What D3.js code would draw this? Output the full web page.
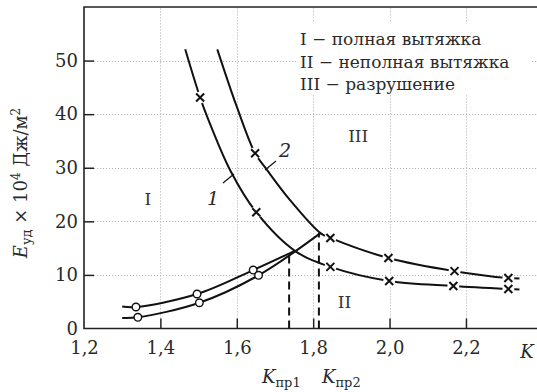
<!DOCTYPE html>
<html><head><meta charset="utf-8">
<script src="https://cdn.jsdelivr.net/npm/d3@7"></script>
<style>body{margin:0;background:#fff}svg{display:block}</style>
</head><body><svg id="c" width="537" height="392"></svg>
<script>
// ---- data ----
const xTicks = [1.2, 1.4, 1.6, 1.8, 2.0, 2.2];
const yTicks = [0, 10, 20, 30, 40, 50];
// descending curves (line vertices)
const curve1 = [[1.465,52.1],[1.504,43.1],[1.526,38.9],[1.583,29.5],[1.651,21.7],[1.752,14.5],[1.845,11.5],[1.999,8.86],[2.167,7.93],[2.311,7.37],[2.34,7.28]];
const curve2 = [[1.549,52.1],[1.600,41.4],[1.648,32.7],[1.679,29.6],[1.740,23.9],[1.819,17.8],[1.845,16.9],[1.997,13.15],[2.170,10.7],[2.311,9.42],[2.34,9.33]];
// cross markers
const cross1 = [[1.504,43.1],[1.651,21.7],[1.845,11.5],[1.999,8.86],[2.167,7.93],[2.311,7.37]];
const cross2 = [[1.648,32.7],[1.845,16.9],[1.997,13.15],[2.170,10.7],[2.311,9.42]];
// rising lines (full drawing energy)
const riseA = [[1.300,4.10],[1.336,4.01],[1.496,6.44],[1.643,10.91],[1.752,14.5]];
const riseB = [[1.300,1.96],[1.341,2.09],[1.502,4.81],[1.657,9.93],[1.819,17.8]];
const circA = [[1.336,4.01],[1.496,6.44],[1.643,10.91]];
const circB = [[1.341,2.09],[1.502,4.81],[1.657,9.93]];
// limit ratios
const kpr = [1.737, 1.815];
const kprTop = [14.0, 17.8];
const legendLines = ["I − полная вытяжка", "II − неполная вытяжка", "III − разрушение"];
const regionLabels = [["I",1.3675,23.0],["II",1.882,3.8],["III",1.918,34.8]];

// ---- drawing ----
const svg = d3.select("#c");
const font = "DejaVu Serif";
const ink = "#2a2a2a";
const x = d3.scaleLinear().domain([1.2, 2.386]).range([84, 537]);
const y = d3.scaleLinear().domain([0, 60]).range([328.5, 7]);

// grid
const grid = svg.append("g").attr("stroke","#b8b8b8").attr("stroke-width",1).attr("stroke-dasharray","1.2,1.8");
grid.selectAll(".gx").data(xTicks.slice(1)).join("line")
  .attr("x1",d=>Math.round(x(d))+0.5).attr("x2",d=>Math.round(x(d))+0.5)
  .attr("y1",y(0)-10).attr("y2",y(60));
grid.selectAll(".gy").data(yTicks.slice(1)).join("line")
  .attr("y1",d=>Math.round(y(d))+0.5).attr("y2",d=>Math.round(y(d))+0.5)
  .attr("x1",x(1.2)+10).attr("x2",537);

// legend background + text
svg.append("rect").attr("x",296).attr("y",22).attr("width",234).attr("height",72).attr("fill","#fff");
svg.append("g").selectAll("text").data(legendLines).join("text")
  .attr("x",300).attr("y",(d,i)=>45+i*22.5)
  .attr("font-family",font).attr("font-size",17).attr("fill",ink).text(d=>d);

// axes
const xAxis = d3.axisBottom(x).tickValues(xTicks).tickSizeInner(-10).tickSizeOuter(0).tickPadding(8)
  .tickFormat(d=>d3.format(".1f")(d).replace(".",","));
const gx = svg.append("g").attr("transform",`translate(0,${y(0)})`).call(xAxis);
const yAxis = d3.axisLeft(y).tickValues(yTicks).tickSizeInner(-10).tickSizeOuter(0).tickPadding(6);
const gy = svg.append("g").attr("transform",`translate(${x(1.2)},0)`).call(yAxis);
[gx,gy].forEach(g=>{
  g.select(".domain").remove();
  g.selectAll(".tick line").attr("stroke","#222").attr("stroke-width",1.5);
  g.selectAll(".tick text").attr("font-family",font).attr("font-size",18).attr("fill",ink);
});
gx.selectAll(".tick text").attr("dy","0.95em");
gx.selectAll(".tick").filter(d=>d===1.2).select("line").remove();
gy.selectAll(".tick").filter(d=>d===0).select("line").remove();
// frame: left, top, bottom
svg.append("path").attr("d",`M537,${y(60)}H${x(1.2)}V${y(0)}H537`).attr("fill","none").attr("stroke","#222").attr("stroke-width",1.6);

// dashed K_pr lines
svg.append("g").selectAll("line").data(kpr).join("line")
  .attr("x1",d=>x(d)).attr("x2",d=>x(d)).attr("y1",y(0)).attr("y2",(d,i)=>y(kprTop[i]))
  .attr("stroke","#111").attr("stroke-width",2).attr("stroke-dasharray","8,5");

const line = d3.line().x(d=>x(d[0])).y(d=>y(d[1])).curve(d3.curveCatmullRom.alpha(0.5));
[curve1,curve2,riseA,riseB].forEach(c=>{
  svg.append("path").attr("d",line(c)).attr("fill","none").attr("stroke","#111").attr("stroke-width",2);
});

// cross markers with white halo
const crosses = cross1.concat(cross2);
const cg = svg.append("g");
cg.selectAll("circle").data(crosses).join("circle").attr("cx",d=>x(d[0])).attr("cy",d=>y(d[1])).attr("r",6).attr("fill","#fff");
cg.selectAll("path").data(crosses).join("path")
  .attr("d",d=>{const cx=x(d[0]),cy=y(d[1]),s=4;return `M${cx-s},${cy-s}L${cx+s},${cy+s}M${cx-s},${cy+s}L${cx+s},${cy-s}`;})
  .attr("stroke","#111").attr("stroke-width",2);
// circle markers
svg.append("g").selectAll("circle").data(circA.concat(circB)).join("circle")
  .attr("cx",d=>x(d[0])).attr("cy",d=>y(d[1])).attr("r",3.8)
  .attr("fill","#fff").attr("stroke","#111").attr("stroke-width",1.4);

// region labels
svg.append("g").selectAll("text").data(regionLabels).join("text")
  .attr("x",d=>x(d[1])).attr("y",d=>y(d[2])).attr("text-anchor","middle")
  .attr("font-family",font).attr("font-size",17).attr("fill","#333").text(d=>d[0]);

// curve labels with leaders
svg.append("line").attr("x1",223).attr("y1",183).attr("x2",234).attr("y2",174).attr("stroke","#111").attr("stroke-width",1.2);
svg.append("line").attr("x1",265).attr("y1",170).attr("x2",276).attr("y2",161).attr("stroke","#111").attr("stroke-width",1.2);
svg.append("text").attr("x",213).attr("y",205).attr("text-anchor","middle").attr("font-family",font).attr("font-style","italic").attr("font-size",19).attr("fill",ink).text("1");
svg.append("text").attr("x",285).attr("y",157).attr("text-anchor","middle").attr("font-family",font).attr("font-style","italic").attr("font-size",19).attr("fill",ink).text("2");

// axis titles
const yt = svg.append("text").attr("transform","translate(27,183) rotate(-90)").attr("text-anchor","middle")
  .attr("font-family",font).attr("font-size",18).attr("fill",ink);
yt.append("tspan").attr("font-style","italic").text("E");
yt.append("tspan").attr("font-size",13).attr("dy",4).text("уд");
yt.append("tspan").attr("dy",-4).text(" × 10");
yt.append("tspan").attr("font-size",12).attr("dy",-7).text("4");
yt.append("tspan").attr("dy",7).text(" Дж/м");
yt.append("tspan").attr("font-size",12).attr("dy",-7).text("2");

svg.append("text").attr("x",527).attr("y",358).attr("text-anchor","middle").attr("font-family",font).attr("font-style","italic").attr("font-size",18).attr("fill",ink).text("K");
const kp = svg.append("g").attr("font-family",font).attr("fill",ink);
[["пр1",262],["пр2",322]].forEach(([s,px])=>{
  const t = kp.append("text").attr("x",px).attr("y",383).attr("font-size",18);
  t.append("tspan").attr("font-style","italic").text("K");
  t.append("tspan").attr("font-size",13).attr("dy",4).text(s);
});
</script></body></html>
